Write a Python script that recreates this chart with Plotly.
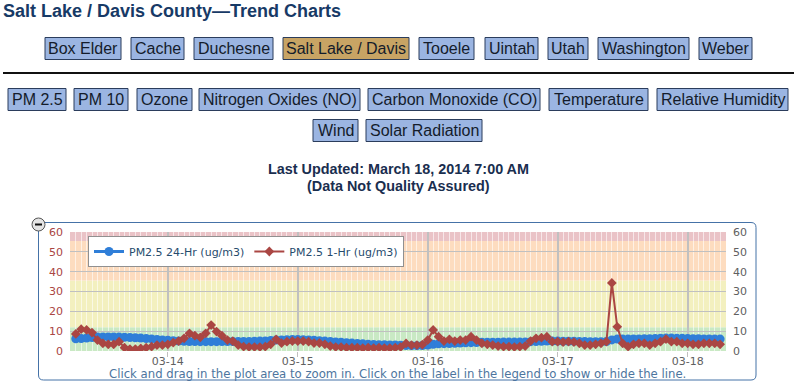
import pandas as pd
import plotly.graph_objects as go

# ---------------- data ----------------
start_time = "2014-03-13 07:00"
pm25_1hr = [8.6, 11.0, 10.6, 9.3, 5.5, 3.9, 3.4, 3.4, 4.7, 1.7,
            1.0, 1.0, 1.3, 1.7, 2.2, 3.0, 3.0, 3.4, 4.2, 5.0,
            6.4, 8.9, 7.7, 6.9, 8.9, 13.1, 9.8, 7.7, 5.5, 5.0,
            3.0, 2.2, 2.0, 2.0, 2.0, 2.2, 3.4, 5.9, 4.0, 4.7,
            5.0, 5.0, 5.0, 4.7, 4.0, 4.0, 3.4, 2.5, 2.0, 2.0,
            1.7, 1.7, 1.7, 1.5, 1.7, 1.5, 1.7, 1.5, 1.5, 1.7,
            2.0, 3.8, 3.0, 3.0, 3.2, 5.5, 10.6, 7.2, 5.0, 5.9,
            5.0, 5.5, 5.5, 7.2, 5.5, 3.9, 3.4, 3.0, 2.5, 2.2,
            2.2, 2.0, 2.2, 2.5, 5.0, 6.4, 6.7, 7.2, 4.7, 4.7,
            4.5, 4.7, 4.5, 3.9, 3.0, 3.0, 3.4, 3.9, 4.7, 34.3,
            12.2, 3.9, 2.2, 3.4, 3.9, 3.9, 3.0, 3.9, 4.7, 6.0,
            4.7, 4.7, 3.9, 3.9, 3.4, 3.4, 3.9, 3.9, 3.9, 3.4]
pm25_24hr = [6.2, 6.3, 6.5, 6.8, 7.0, 7.1, 7.1, 7.1, 7.0, 6.9,
             6.8, 6.7, 6.5, 6.3, 6.1, 5.8, 5.6, 5.4, 5.2, 5.0,
             4.9, 4.8, 4.8, 4.7, 4.7, 4.7, 4.7, 4.8, 4.8, 4.8,
             4.8, 4.8, 4.8, 4.9, 5.0, 5.1, 5.3, 5.5, 5.6, 5.7,
             5.8, 5.8, 5.7, 5.6, 5.4, 5.2, 5.0, 4.8, 4.6, 4.4,
             4.2, 4.0, 3.8, 3.6, 3.4, 3.3, 3.2, 3.1, 3.0, 3.0,
             2.9, 2.8, 2.7, 2.7, 2.8, 3.0, 3.4, 3.6, 3.7, 3.8,
             3.9, 4.0, 4.1, 4.2, 4.3, 4.4, 4.4, 4.4, 4.4, 4.5,
             4.5, 4.5, 4.5, 4.6, 4.7, 4.8, 4.9, 5.0, 5.0, 5.0,
             4.9, 4.9, 4.9, 4.8, 4.8, 4.7, 4.7, 4.7, 4.8, 5.6,
             6.0, 6.0, 6.0, 6.1, 6.1, 6.2, 6.2, 6.3, 6.4, 6.5,
             6.5, 6.4, 6.4, 6.3, 6.2, 6.2, 6.1, 6.1, 6.0, 6.0]
times = pd.date_range(start_time, periods=len(pm25_1hr), freq="h")

series_names = ["PM2.5 24-Hr (ug/m3)", "PM2.5 1-Hr (ug/m3)"]
aqi_bands = [(0, 12), (12, 35.5), (35.5, 55.5), (55.5, 60)]
x_range = ["2014-03-13 05:56", "2014-03-18 07:05"]
y_range = [0, 60]

title_text = "Salt Lake / Davis County\u2014Trend Charts"
county_buttons = ["Box Elder", "Cache", "Duchesne", "Salt Lake / Davis", "Tooele",
                  "Uintah", "Utah", "Washington", "Weber"]
selected_county = "Salt Lake / Davis"
param_buttons_1 = ["PM 2.5", "PM 10", "Ozone", "Nitrogen Oxides (NO)",
                   "Carbon Monoxide (CO)", "Temperature", "Relative Humidity"]
param_buttons_2 = ["Wind", "Solar Radiation"]
updated_lines = ["Last Updated: March 18, 2014 7:00 AM", "(Data Not Quality Assured)"]
subtitle = ("Click and drag in the plot area to zoom in. Click on the label in the "
            "legend to show or hide the line.")

# ---------------- layout constants (pixels) ----------------
W, H = 794, 386
L, R, T, B = 70, 726, 232, 351
county_edges = [(45, 121), (131, 184), (194, 273), (283, 409), (419, 474),
                (485, 538), (548, 588), (598, 689), (699, 752)]
param_edges_1 = [(8, 66), (74, 128), (137, 192), (199, 360), (368, 540),
                 (549, 648), (657, 788)]
param_edges_2 = [(313, 358), (366, 482)]
band_colors = ["#c9e9c4", "#f3f0bf", "#fddcbf", "#eac3c7"]


def px(x):
    return (x - L) / (R - L)


def py(y):
    return (B - y) / (B - T)


def rounded_path(x0, y0, x1, y1, r):
    pts = [
        f"M{px(x0 + r)},{py(y0)}", f"L{px(x1 - r)},{py(y0)}",
        f"Q{px(x1)},{py(y0)} {px(x1)},{py(y0 + r)}", f"L{px(x1)},{py(y1 - r)}",
        f"Q{px(x1)},{py(y1)} {px(x1 - r)},{py(y1)}", f"L{px(x0 + r)},{py(y1)}",
        f"Q{px(x0)},{py(y1)} {px(x0)},{py(y1 - r)}", f"L{px(x0)},{py(y0 + r)}",
        f"Q{px(x0)},{py(y0)} {px(x0 + r)},{py(y0)}", "Z",
    ]
    return " ".join(pts)


fig = go.Figure()
fig.add_trace(go.Scatter(
    x=times, y=pm25_24hr, name=series_names[0], mode="lines+markers",
    line=dict(color="#2f7ed8", width=3),
    marker=dict(symbol="circle", size=9, color="#2f7ed8"),
    yaxis="y"))
fig.add_trace(go.Scatter(
    x=times, y=pm25_1hr, name=series_names[1], mode="lines+markers",
    line=dict(color="#aa4643", width=2),
    marker=dict(symbol="diamond", size=7.5, color="#aa4643"),
    yaxis="y2"))

shapes = []
annotations = []

# AQI colour bands
for (lo, hi), col in zip(aqi_bands, band_colors):
    shapes.append(dict(type="rect", xref="paper", yref="y", x0=0, x1=1, y0=lo, y1=hi,
                       fillcolor=col, line=dict(width=0), layer="below"))

# chart container
shapes.append(dict(type="path", xref="paper", yref="paper",
                   path=rounded_path(38.5, 222.5, 756, 380, 5),
                   line=dict(color="#4572a7", width=1), fillcolor="rgba(0,0,0,0)"))
# collapse icon
shapes.append(dict(type="circle", xref="paper", yref="paper",
                   x0=px(32), x1=px(45), y0=py(218), y1=py(231),
                   fillcolor="#e4e4e4", line=dict(color="#555", width=1)))
shapes.append(dict(type="line", xref="paper", yref="paper",
                   x0=px(35), x1=px(42), y0=py(224.5), y1=py(224.5),
                   line=dict(color="#111", width=2)))
# separator
shapes.append(dict(type="line", xref="paper", yref="paper",
                   x0=px(3), x1=px(794), y0=py(73), y1=py(73),
                   line=dict(color="#111", width=2)))

btn_font = dict(family="Liberation Sans, Arial", size=16, color="#141c2b")


def add_buttons(labels, edges, y0, y1):
    for lab, (a, b) in zip(labels, edges):
        fill = "#c8a464" if lab == selected_county else "#9bb5e2"
        shapes.append(dict(type="rect", xref="paper", yref="paper",
                           x0=px(a), x1=px(b), y0=py(y0), y1=py(y1),
                           fillcolor=fill, line=dict(color="#2b3d5c", width=1)))
        annotations.append(dict(text=lab, x=px((a + b) / 2), y=py((y0 + y1) / 2),
                                xref="paper", yref="paper", xanchor="center",
                                yanchor="middle", showarrow=False, font=btn_font))


add_buttons(county_buttons, county_edges, 37.5, 59.5)
add_buttons(param_buttons_1, param_edges_1, 88.5, 110.5)
add_buttons(param_buttons_2, param_edges_2, 119.5, 141.5)

annotations.append(dict(text=title_text, x=px(1), y=py(10.5), xref="paper", yref="paper",
                        xanchor="left", yanchor="middle", showarrow=False,
                        font=dict(family="Liberation Sans, Arial", size=18,
                                  color="#173a66", weight="bold")))
for txt, yy in zip(updated_lines, [168.5, 185.5]):
    annotations.append(dict(text=txt, x=px(398), y=py(yy), xref="paper", yref="paper",
                            xanchor="center", yanchor="middle", showarrow=False,
                            font=dict(family="Liberation Sans, Arial", size=14.4,
                                      color="#1a2e4f", weight="bold")))
annotations.append(dict(text=subtitle, x=px(397.5), y=py(373.5), xref="paper", yref="paper",
                        xanchor="center", yanchor="middle", showarrow=False,
                        font=dict(family="DejaVu Sans", size=11.7, color="#4d759e")))

fig.update_layout(
    width=W, height=H,
    margin=dict(l=L, r=W - R, t=T, b=H - B, pad=0),
    paper_bgcolor="white", plot_bgcolor="white",
    shapes=shapes, annotations=annotations,
    showlegend=True,
    legend=dict(x=px(88), y=py(236), xanchor="left", yanchor="top",
                orientation="h", bgcolor="white", bordercolor="#909090", borderwidth=1,
                font=dict(family="DejaVu Sans", size=11, color="#274b6d"),
                itemwidth=30),
    xaxis=dict(type="date", range=x_range, tickformat="%m-%d",
               dtick=86400000, tick0="2014-03-14",
               showgrid=True, gridcolor="#c0c0c0", gridwidth=2,
               minor=dict(dtick=3600000, showgrid=True,
                          gridcolor="rgba(255,255,255,0.6)", gridwidth=1),
               ticks="outside", ticklen=5, tickcolor="#c0c0c0", tickwidth=1,
               ticklabelstandoff=-5,
               showline=False, zeroline=False,
               tickfont=dict(family="DejaVu Sans", size=11, color="#606060")),
    yaxis=dict(range=y_range, dtick=10, showgrid=True, gridcolor="#c0c0c0",
               gridwidth=1, zeroline=False, showline=False, ticks="",
               ticklabelstandoff=6,
               tickfont=dict(family="DejaVu Sans", size=11, color="#aa4643")),
    yaxis2=dict(range=y_range, dtick=10, overlaying="y", side="right",
                showgrid=False, zeroline=False, showline=False, ticks="",
                ticklabelstandoff=6,
                tickfont=dict(family="DejaVu Sans", size=11, color="#606060")),
)

fig.write_html("out.html",
               config={"displayModeBar": False},
               post_script="document.body.style.margin='0px';")
